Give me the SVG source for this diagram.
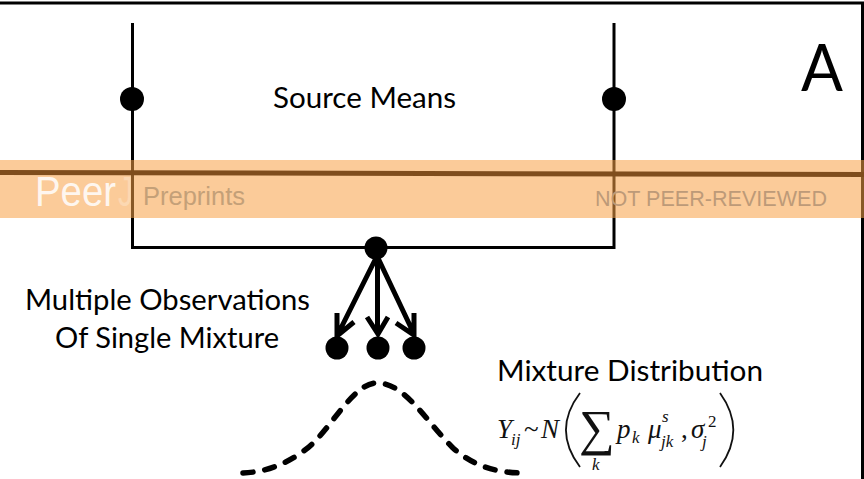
<svg xmlns="http://www.w3.org/2000/svg" width="864" height="479" viewBox="0 0 864 479">
<style>
.l{fill:none;stroke:#000;stroke-width:3}
.a{fill:none;stroke:#000;stroke-width:5}
.t{font-family:"Lato","Open Sans",sans-serif;font-size:28px;fill:#000}
.m{font-family:"Liberation Serif",serif;font-style:italic;fill:#111;font-size:27px}
.s{font-family:"Liberation Serif",serif;font-style:italic;fill:#111;font-size:17px}
.w{font-family:"Liberation Sans",sans-serif}
</style>
<rect width="864" height="479" fill="#fff"/>
<path d="M0 3H862.500V479" fill="none" stroke="#000" stroke-width="3"/>
<g id="connectors">
<path class="l" d="M132.500 23V247.500H614V23"/>
<path class="a" d="M376 258L338 334M354 322L337 336L337 313"/>
<path class="a" d="M377.500 258V334M367 317L378 334L388 317"/>
<path class="a" d="M378 258L414 334M396 323L414 335L414 313"/>
</g>
<g id="source-left"><circle cx="132" cy="99" r="12"/></g>
<g id="source-right"><circle cx="614" cy="99" r="12"/></g>
<g id="source-label"><text class="t" x="273" y="108" textLength="183" lengthAdjust="spacingAndGlyphs">Source Means</text></g>
<g id="panel-label"><text x="801" y="91" font-family="Lato,'Open Sans',sans-serif" font-size="66" textLength="42" lengthAdjust="spacingAndGlyphs">A</text></g>
<g id="mixture"><circle cx="376" cy="248" r="11.500"/></g>
<g id="obs-1"><circle cx="337" cy="348" r="11.500"/></g>
<g id="obs-2"><circle cx="378" cy="348" r="11.500"/></g>
<g id="obs-3"><circle cx="414" cy="348" r="11.500"/></g>
<g id="obs-label">
<text class="t" x="25" y="310" textLength="285" lengthAdjust="spacingAndGlyphs">Multiple Observations</text>
<text class="t" x="55" y="348" textLength="224" lengthAdjust="spacingAndGlyphs">Of Single Mixture</text>
</g>
<g id="distribution">
<path d="M243 473C265 472 285 465 305 450C330 432 352 383 377 383C405 383 425 420 453 448C470 463 490 472 520 473" fill="none" stroke="#000" stroke-width="5.500" stroke-linecap="round" stroke-dasharray="10 12"/>
</g>
<g id="distribution-label">
<text class="t" x="497" y="381" textLength="266" lengthAdjust="spacingAndGlyphs">Mixture Distribution</text>
<text class="m" x="497" y="438">Y</text>
<text class="s" x="511" y="445">ij</text>
<text class="m" x="524" y="438" style="font-style:normal">~</text>
<text class="m" x="541" y="438">N</text>
<path d="M580 393C561 418 561 442 580 467M720 393C738 418 738 442 720 467" fill="none" stroke="#111" stroke-width="1.800"/>
<text x="579" y="445" font-family="'Liberation Serif',serif" font-size="50" fill="#111">∑</text>
<text class="s" x="592" y="470">k</text>
<text class="m" x="617" y="438">p</text>
<text class="s" x="632" y="443">k</text>
<text class="m" x="648" y="438">μ</text>
<text class="s" x="662" y="422">s</text>
<text class="s" x="661" y="447">jk</text>
<text class="m" x="681" y="438" style="font-style:normal">,</text>
<text class="m" x="691" y="438">σ</text>
<text class="s" x="702" y="447">j</text>
<text class="s" x="708" y="427" style="font-style:normal">2</text>
</g>
<rect x="0" y="160" width="864" height="58" fill="#f8a046" fill-opacity=".55"/>
<path d="M0 172.500L864 174.500" stroke="#7f4d1c" stroke-width="5" fill="none"/>
<text class="w" x="35" y="206" font-size="42" fill="#fff" fill-opacity=".85" textLength="81" lengthAdjust="spacingAndGlyphs">Peer</text>
<text class="w" x="118" y="206" font-size="42" fill="#fff" fill-opacity=".25" textLength="15" lengthAdjust="spacingAndGlyphs">J</text>
<text class="w" x="143" y="205" font-size="25" fill="#c4a078" textLength="102" lengthAdjust="spacingAndGlyphs">Preprints</text>
<text class="w" x="595" y="206" font-size="22" fill="#bd9a78" textLength="232" lengthAdjust="spacingAndGlyphs">NOT PEER-REVIEWED</text>
</svg>
